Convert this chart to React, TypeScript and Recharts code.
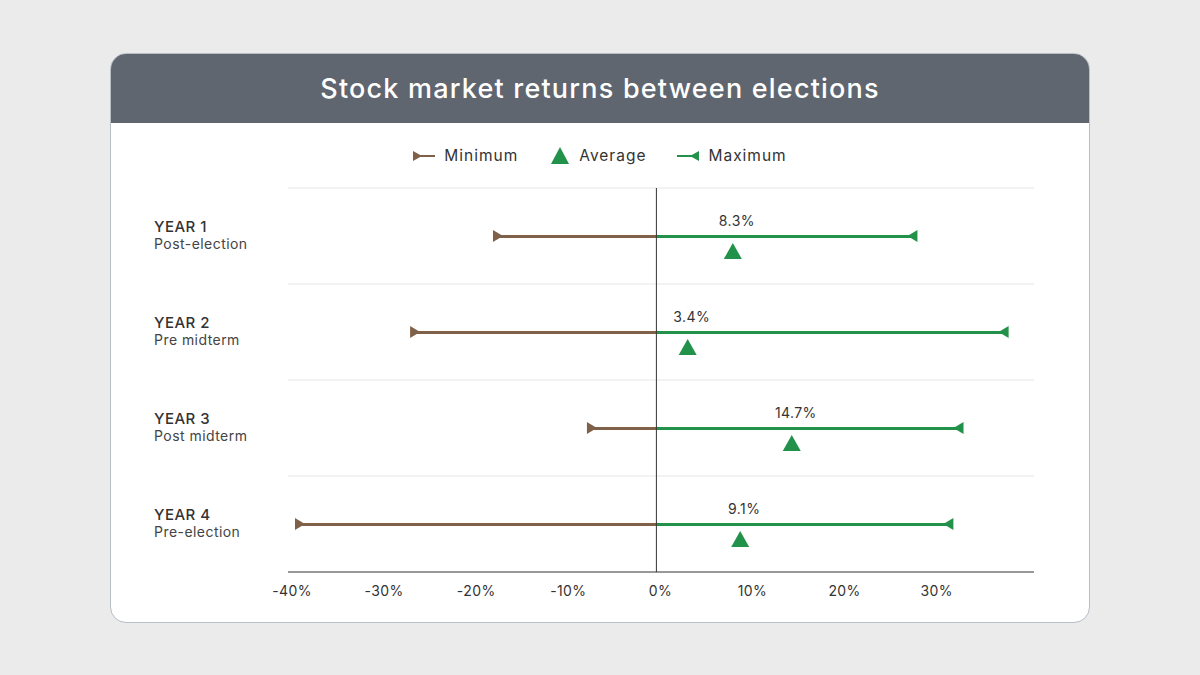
import React from 'react'
import {
  ComposedChart,
  Bar,
  Line,
  XAxis,
  YAxis,
  ReferenceLine,
  LabelList,
} from 'recharts'

const years = ['YEAR 1', 'YEAR 2', 'YEAR 3', 'YEAR 4']
const phases = ['Post-election', 'Pre midterm', 'Post midterm', 'Pre-election']
const minimums = [-17.2, -26.2, -7.0, -38.7]
const averages = [8.3, 3.4, 14.7, 9.1]
const maximums = [27.8, 37.7, 32.8, 31.7]
const xTicks = [-40, -30, -20, -10, 0, 10, 20, 30]

const BROWN = '#7f6149'
const GREEN = '#22914a'
const TEXT = '#333333'
const FONT = "Inter, 'Open Sans', sans-serif"

const rows = years.map((year, i) => ({
  year,
  phase: phases[i],
  min: minimums[i],
  avg: averages[i],
  max: maximums[i],
}))

function MinMarker(props: any) {
  const { cx, cy, index } = props
  if (cx == null || cy == null) return null
  return <path key={`min-${index}`} d={`M${cx - 5},${cy - 6}L${cx + 5},${cy}L${cx - 5},${cy + 6}Z`} fill={BROWN} />
}

function MaxMarker(props: any) {
  const { cx, cy, index } = props
  if (cx == null || cy == null) return null
  return <path key={`max-${index}`} d={`M${cx + 5},${cy - 6}L${cx - 5},${cy}L${cx + 5},${cy + 6}Z`} fill={GREEN} />
}

function AvgMarker(props: any) {
  const { cx, cy, index } = props
  if (cx == null || cy == null) return null
  // sits just under the range line
  return <path key={`avg-${index}`} d={`M${cx - 9},${cy + 23}L${cx},${cy + 7}L${cx + 9},${cy + 23}Z`} fill={GREEN} />
}

function AvgLabel(props: any) {
  const { x, y, value } = props
  return (
    <text x={x + 4} y={y - 10} textAnchor="middle" fontSize={14} fill={TEXT} fontFamily={FONT} letterSpacing={0.4}>
      {`${value}%`}
    </text>
  )
}

function YearTick(props: any) {
  const { y, payload, index } = props
  return (
    <g>
      <text x={43} y={y - 4} fontSize={15} fontWeight={500} fill={TEXT} fontFamily={FONT} letterSpacing={0.5}>
        {payload.value}
      </text>
      <text x={43} y={y + 13} fontSize={14} fill="#444" fontFamily={FONT} letterSpacing={0.45}>
        {phases[index]}
      </text>
    </g>
  )
}

function LegendRow() {
  return (
    <div
      style={{
        position: 'absolute',
        top: 146,
        left: 110,
        width: 980,
        display: 'flex',
        justifyContent: 'center',
        alignItems: 'center',
        fontFamily: FONT,
        fontSize: 15.5,
        letterSpacing: 1,
        color: TEXT,
      }}
    >
      <svg width={22} height={14} style={{ marginRight: 9 }}>
        <line x1={0} y1={7} x2={22} y2={7} stroke={BROWN} strokeWidth={2} />
        <path d="M0,2L9,7L0,12Z" fill={BROWN} />
      </svg>
      <span style={{ marginRight: 33 }}>Minimum</span>
      <svg width={18} height={17} style={{ marginRight: 10 }}>
        <path d="M0,17L9,0L18,17Z" fill={GREEN} />
      </svg>
      <span style={{ marginRight: 31 }}>Average</span>
      <svg width={22} height={14} style={{ marginRight: 9 }}>
        <line x1={0} y1={7} x2={22} y2={7} stroke={GREEN} strokeWidth={2} />
        <path d="M22,2L13,7L22,12Z" fill={GREEN} />
      </svg>
      <span>Maximum</span>
    </div>
  )
}

export default function App() {
  return (
    <div
      style={{
        position: 'fixed',
        left: 0,
        top: 0,
        width: 1200,
        height: 675,
        background: '#ebebeb',
        fontFamily: FONT,
      }}
    >
      <div
        style={{
          position: 'absolute',
          left: 110,
          top: 53,
          width: 980,
          height: 570,
          boxSizing: 'border-box',
          border: '1px solid #b7bec6',
          borderRadius: 16,
          background: '#ffffff',
          overflow: 'hidden',
        }}
      >
        <div
          style={{
            height: 69,
            background: '#5f6670',
            color: '#ffffff',
            display: 'flex',
            alignItems: 'center',
            justifyContent: 'center',
            fontSize: 27,
            fontWeight: 500,
            letterSpacing: 1.2,
          }}
        >
          Stock market returns between elections
        </div>
      </div>

      <LegendRow />

      <div style={{ position: 'absolute', left: 111, top: 124 }}>
        <ComposedChart
          width={978}
          height={497}
          data={rows}
          layout="vertical"
          stackOffset="sign"
          margin={{ top: 64, right: 55, bottom: 19, left: 0 }}
        >
          {years.map((y) => (
            <ReferenceLine key={y} y={y} position="start" stroke="#e6e6e6" strokeWidth={1} />
          ))}
          <XAxis
            type="number"
            domain={[-40, 41]}
            ticks={xTicks}
            tickFormatter={(v: number) => `${v}%`}
            tick={{ fill: TEXT, fontSize: 14, fontFamily: FONT, dx: 4, letterSpacing: 0.4 }}
            tickLine={false}
            tickMargin={8}
            axisLine={{ stroke: '#333333' }}
            height={30}
            allowDataOverflow
          />
          <YAxis
            type="category"
            dataKey="year"
            width={177}
            axisLine={false}
            tickLine={false}
            tick={<YearTick />}
          />
          <Bar dataKey="min" stackId="range" fill={BROWN} barSize={3} isAnimationActive={false} />
          <Bar dataKey="max" stackId="range" fill={GREEN} barSize={3} isAnimationActive={false} />
          <ReferenceLine x={0} stroke="#333333" strokeWidth={1} />
          <Line dataKey="min" stroke="none" dot={MinMarker} activeDot={false} isAnimationActive={false} />
          <Line dataKey="max" stroke="none" dot={MaxMarker} activeDot={false} isAnimationActive={false} />
          <Line dataKey="avg" stroke="none" dot={AvgMarker} activeDot={false} isAnimationActive={false}>
            <LabelList dataKey="avg" content={AvgLabel} />
          </Line>
        </ComposedChart>
      </div>
    </div>
  )
}
